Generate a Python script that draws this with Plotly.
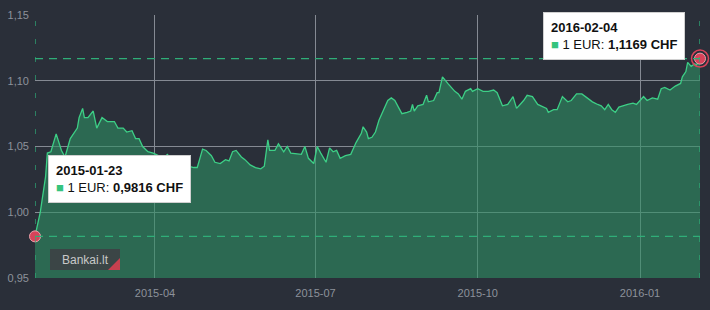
import plotly.graph_objects as go

# ---- data ----
dates = [
    "2015-01-23", "2015-01-26", "2015-01-29", "2015-01-30", "2015-02-01", "2015-02-02",
    "2015-02-04", "2015-02-07", "2015-02-09", "2015-02-12", "2015-02-16", "2015-02-17",
    "2015-02-19", "2015-02-20", "2015-02-22", "2015-02-25", "2015-02-27", "2015-03-02",
    "2015-03-05", "2015-03-09", "2015-03-11", "2015-03-14", "2015-03-16", "2015-03-19",
    "2015-03-21", "2015-03-23", "2015-03-25", "2015-03-28", "2015-03-31", "2015-04-03",
    "2015-04-06", "2015-04-08", "2015-04-11", "2015-04-14", "2015-04-17", "2015-04-20",
    "2015-04-23", "2015-04-25", "2015-04-28", "2015-04-30", "2015-05-03", "2015-05-05",
    "2015-05-08", "2015-05-11", "2015-05-13", "2015-05-15", "2015-05-17", "2015-05-20",
    "2015-05-22", "2015-05-25", "2015-05-28", "2015-05-31", "2015-06-02", "2015-06-04",
    "2015-06-05", "2015-06-08", "2015-06-10", "2015-06-13", "2015-06-15", "2015-06-17",
    "2015-06-21", "2015-06-23", "2015-06-25", "2015-06-27", "2015-06-30", "2015-07-02",
    "2015-07-04", "2015-07-07", "2015-07-09", "2015-07-11", "2015-07-13", "2015-07-15",
    "2015-07-18", "2015-07-21", "2015-07-23", "2015-07-24", "2015-07-27", "2015-07-28",
    "2015-07-30", "2015-07-31", "2015-08-02", "2015-08-04", "2015-08-06", "2015-08-08",
    "2015-08-11", "2015-08-13", "2015-08-15", "2015-08-17", "2015-08-19", "2015-08-22",
    "2015-08-24", "2015-08-25", "2015-08-26", "2015-08-28", "2015-08-31", "2015-09-02",
    "2015-09-03", "2015-09-06", "2015-09-08", "2015-09-09", "2015-09-11", "2015-09-14",
    "2015-09-16", "2015-09-18", "2015-09-20", "2015-09-22", "2015-09-24", "2015-09-27",
    "2015-09-28", "2015-10-01", "2015-10-04", "2015-10-07", "2015-10-10", "2015-10-12",
    "2015-10-15", "2015-10-18", "2015-10-21", "2015-10-23", "2015-10-25", "2015-10-27",
    "2015-10-29", "2015-11-01", "2015-11-04", "2015-11-06", "2015-11-09", "2015-11-10",
    "2015-11-13", "2015-11-15", "2015-11-18", "2015-11-21", "2015-11-23", "2015-11-26",
    "2015-11-29", "2015-12-02", "2015-12-05", "2015-12-08", "2015-12-10", "2015-12-12",
    "2015-12-14", "2015-12-16", "2015-12-18", "2015-12-20", "2015-12-22", "2015-12-25",
    "2015-12-28", "2015-12-30", "2016-01-01", "2016-01-03", "2016-01-05", "2016-01-08",
    "2016-01-11", "2016-01-13", "2016-01-15", "2016-01-18", "2016-01-21", "2016-01-24",
    "2016-01-25", "2016-01-27", "2016-01-28", "2016-01-30", "2016-02-01", "2016-02-02",
    "2016-02-04",
]
rates = [
    0.9816, 1.000, 1.027, 1.045, 1.046, 1.050,
    1.0596, 1.047, 1.042, 1.056, 1.064, 1.072,
    1.079, 1.072, 1.072, 1.077, 1.064, 1.072,
    1.069, 1.069, 1.064, 1.064, 1.061, 1.062,
    1.056, 1.056, 1.050, 1.046, 1.045, 1.043,
    1.041, 1.044, 1.040, 1.038, 1.036, 1.035,
    1.034, 1.034, 1.048, 1.047, 1.043, 1.038,
    1.037, 1.040, 1.039, 1.046, 1.047, 1.042,
    1.040, 1.036, 1.034, 1.033, 1.035, 1.055,
    1.047, 1.047, 1.052, 1.046, 1.050, 1.045,
    1.044, 1.044, 1.050, 1.041, 1.037, 1.050,
    1.045, 1.038, 1.049, 1.046, 1.047, 1.041,
    1.043, 1.044, 1.050, 1.053, 1.060, 1.065,
    1.061, 1.056, 1.057, 1.061, 1.070, 1.076,
    1.085, 1.087, 1.085, 1.080, 1.075, 1.076,
    1.077, 1.082, 1.077, 1.081, 1.082, 1.089,
    1.084, 1.085, 1.091, 1.091, 1.103, 1.098,
    1.095, 1.092, 1.090, 1.086, 1.092, 1.094,
    1.092, 1.094, 1.092, 1.092, 1.093, 1.091,
    1.081, 1.082, 1.088, 1.079, 1.082, 1.085,
    1.089, 1.088, 1.082, 1.081, 1.079, 1.076,
    1.078, 1.078, 1.088, 1.084, 1.085, 1.090,
    1.090, 1.087, 1.084, 1.082, 1.081, 1.078,
    1.082, 1.078, 1.076, 1.080, 1.081, 1.082,
    1.083, 1.082, 1.085, 1.088, 1.085, 1.087,
    1.086, 1.094, 1.095, 1.093, 1.096, 1.098,
    1.103, 1.107, 1.114, 1.111, 1.113, 1.112,
    1.1169,
]
x_tick_vals = ["2015-04-01", "2015-07-01", "2015-10-01", "2016-01-01"]
x_tick_text = ["2015-04", "2015-07", "2015-10", "2016-01"]
y_tick_vals = [0.95, 1.00, 1.05, 1.10, 1.15]
y_tick_text = ["0,95", "1,00", "1,05", "1,10", "1,15"]
base_ccy = "EUR"
quote_ccy = "CHF"
watermark = "Bankai.lt"

# ---- styling ----
W, H = 710, 310
ML, MR, MT, MB = 35, 10, 15, 32
PW, PH = W - ML - MR, H - MT - MB
BG = "#2a2f39"
LINE = "#3dcf86"
FILL = "rgba(46,145,100,0.6)"
DASH = "#2fae78"
GRID = "#858a93"
RED = "#d8435a"
FONT = "Liberation Sans, Arial, sans-serif"


def px(x):
    return (x - ML) / PW


def py(y):
    return (H - MB - y) / PH


def fmt(v):
    return f"{v:.4f}".replace(".", ",")


fig = go.Figure()
fig.add_trace(go.Scatter(
    x=dates, y=rates, mode="lines", fill="tozeroy", fillcolor=FILL,
    line=dict(color=LINE, width=1.3), hoverinfo="skip", showlegend=False,
))

i_min = rates.index(min(rates))
i_max = rates.index(max(rates))

# markers at first and last point
fig.add_trace(go.Scatter(
    x=[dates[-1]], y=[rates[-1]], mode="markers", cliponaxis=False,
    marker=dict(size=17, color="rgba(0,0,0,0)", line=dict(color=RED, width=1.5)),
    hoverinfo="skip", showlegend=False,
))
fig.add_trace(go.Scatter(
    x=[dates[0], dates[-1]], y=[rates[0], rates[-1]], mode="markers", cliponaxis=False,
    marker=dict(size=11, color=RED, line=dict(color="#e9a0aa", width=1)),
    hoverinfo="skip", showlegend=False,
))

shapes = []
# dashed min / max horizontal lines
for v in (rates[i_min], rates[i_max]):
    shapes.append(dict(type="line", xref="paper", yref="y", x0=0, x1=1, y0=v, y1=v,
                       line=dict(color=DASH, width=1.3, dash="8px,6px"), layer="above"))
# dashed vertical lines at first and last date
for d in (dates[0], dates[-1]):
    shapes.append(dict(type="line", xref="x", yref="paper", x0=d, x1=d, y0=0, y1=1,
                       line=dict(color=DASH, width=1.3, dash="5px,13px"), layer="above"))

# watermark box
shapes.append(dict(type="rect", xref="paper", yref="paper",
                   x0=px(50), x1=px(120), y0=py(270), y1=py(249),
                   fillcolor="rgba(62,64,68,0.85)", line=dict(width=0), layer="above"))
shapes.append(dict(type="path", xref="paper", yref="paper",
                   path=f"M {px(108)},{py(270)} L {px(120)},{py(270)} L {px(120)},{py(258)} Z",
                   fillcolor="#c8404f", line=dict(width=0), layer="above"))

annotations = [
    dict(xref="paper", yref="paper", x=px(85), y=py(259.5), xanchor="center", yanchor="middle",
         text=watermark, showarrow=False, font=dict(family=FONT, size=12, color="#c9c9c9")),
]


def tooltip(i, left, top):
    txt = (f"<b>{dates[i]}</b><br>"
           f"<span style='color:#35c47e'>■</span> 1 {base_ccy}: <b>{fmt(rates[i])} {quote_ccy}</b>")
    return dict(xref="paper", yref="paper", x=px(left), y=py(top), xanchor="left", yanchor="top",
                text=txt, showarrow=False, align="left", bgcolor="white",
                bordercolor="#d0d0d0", borderwidth=1, borderpad=7,
                font=dict(family=FONT, size=13, color="#111"))


annotations.append(tooltip(0, 48, 155))
annotations.append(tooltip(len(rates) - 1, 543, 12))

fig.update_layout(
    width=W, height=H, margin=dict(l=ML, r=MR, t=MT, b=MB, autoexpand=False),
    paper_bgcolor=BG, plot_bgcolor=BG, separators=",.",
    shapes=shapes, annotations=annotations, showlegend=False,
    xaxis=dict(range=[dates[0], dates[-1]], tickvals=x_tick_vals, ticktext=x_tick_text,
               showgrid=True, gridcolor=GRID, gridwidth=1, zeroline=False, showline=False,
               ticks="", ticklabelstandoff=7, automargin=False,
               tickfont=dict(family=FONT, size=11, color="#8d929b")),
    yaxis=dict(range=[0.9499, 1.1501], tickvals=y_tick_vals, ticktext=y_tick_text,
               showgrid=True, gridcolor=GRID, gridwidth=1, zeroline=False, showline=False,
               ticks="", ticklabelstandoff=5, automargin=False,
               tickfont=dict(family=FONT, size=11, color="#8d929b")),
)

fig.write_html("out.html")
